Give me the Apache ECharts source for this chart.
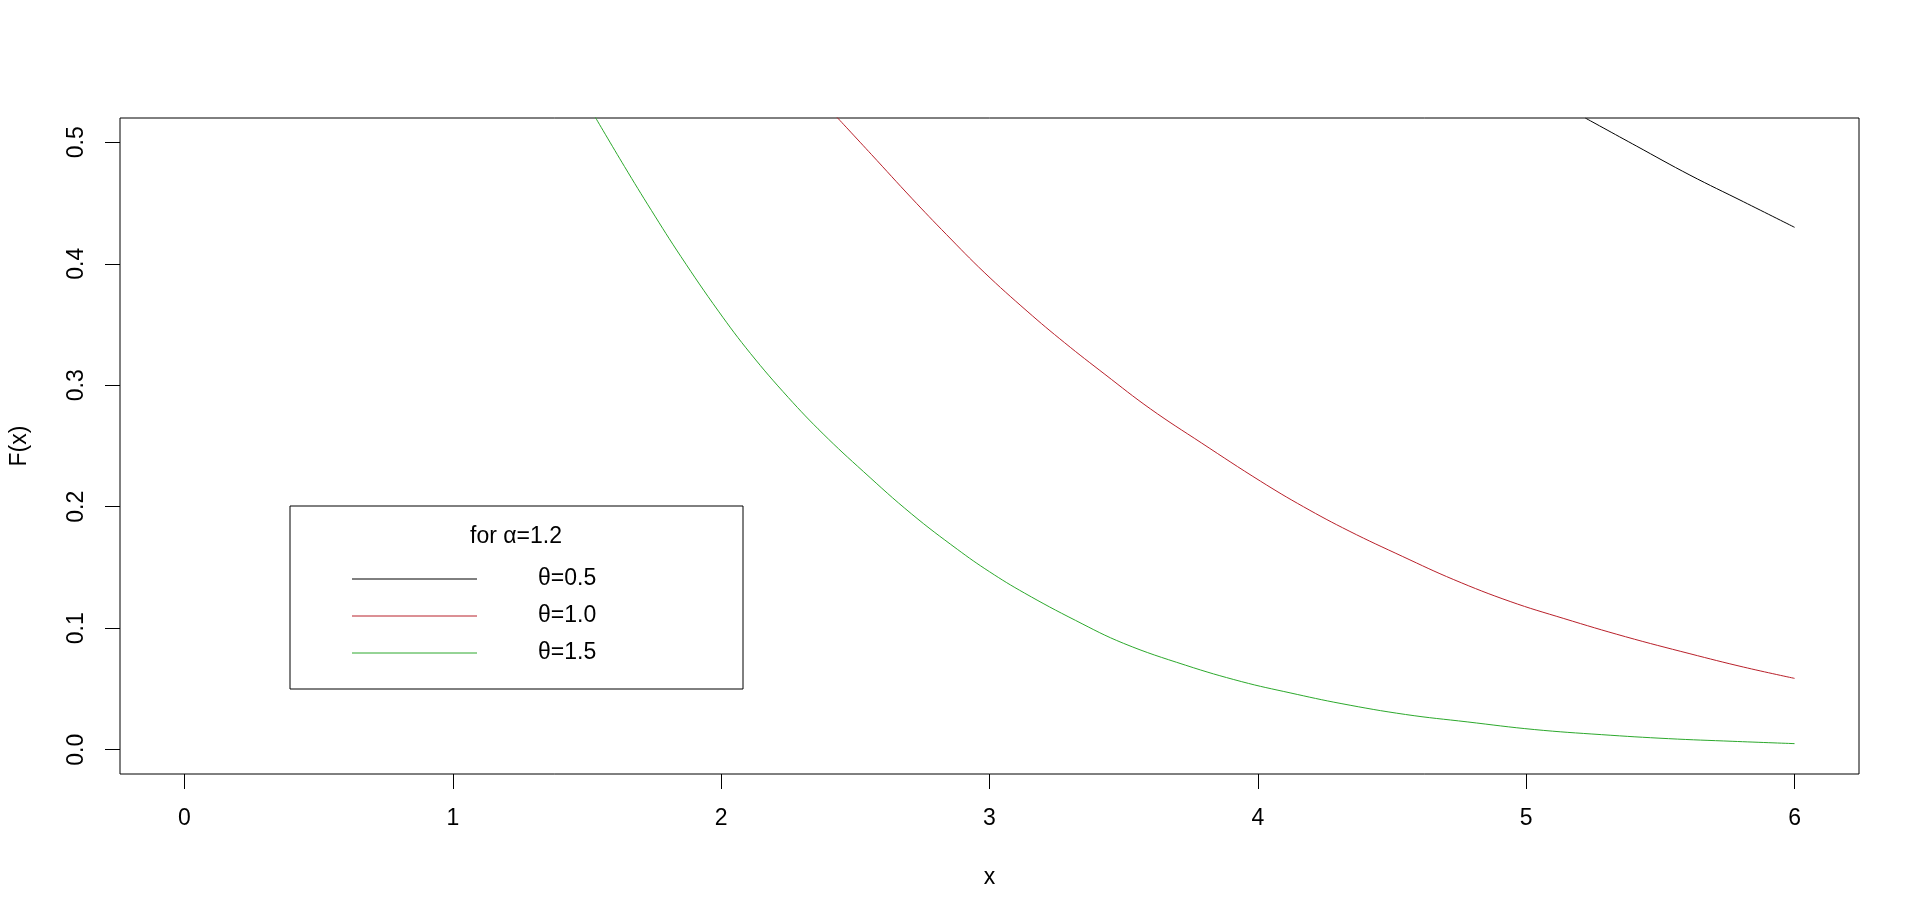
<!DOCTYPE html>
<html>
<head>
<meta charset="utf-8">
<title>F(x) for alpha=1.2</title>
<script src="https://cdn.jsdelivr.net/npm/echarts@6/dist/echarts.min.js"></script>
<style>
  html, body { margin: 0; padding: 0; background: #fff; }
  #main { width: 1920px; height: 921px; }
</style>
</head>
<body>
<div id="main"></div>
<script>
// values (curves are clipped at the top of the box)
var xTicks = [0, 1, 2, 3, 4, 5, 6]
var yTicks = [0, 0.1, 0.2, 0.3, 0.4, 0.5]

var x05 = [5.22, 5.41, 5.61, 5.81, 6.0]
var f05 = [0.520, 0.497, 0.473, 0.451, 0.430]

var x10 = [2.43, 2.56, 2.71, 2.84, 2.98, 3.14, 3.28, 3.43, 3.6, 3.79, 4.01, 4.17, 4.34, 4.54, 4.73, 4.94, 5.14, 5.37, 5.61, 5.81, 6.0]
var f10 = [0.521, 0.490, 0.454, 0.424, 0.393, 0.361, 0.335, 0.309, 0.2805, 0.2525, 0.221, 0.200, 0.180, 0.159, 0.140, 0.122, 0.108, 0.093, 0.079, 0.068, 0.0587]

var x15 = [1.53, 1.64, 1.74, 1.85, 1.99, 2.11, 2.25, 2.38, 2.53, 2.71, 2.88, 3.0, 3.13, 3.32, 3.5, 3.73, 3.94, 4.12, 4.31, 4.55, 4.78, 5.03, 5.28, 5.53, 5.77, 6.0]
var f15 = [0.521, 0.480, 0.444, 0.406, 0.361, 0.326, 0.290, 0.260, 0.229, 0.194, 0.165, 0.1465, 0.129, 0.1065, 0.0875, 0.0696, 0.056, 0.0468, 0.038, 0.029, 0.0229, 0.0166, 0.0124, 0.0091, 0.0069, 0.005]

var seriesNames = ['θ=0.5', 'θ=1.0', 'θ=1.5']
var seriesColors = ['#000000', '#B8202A', '#2CA82C']
var legendTitle = 'for α=1.2'

var FONT = 'Liberation Sans, Arial, sans-serif'
var FS = 23

function zip(xs, ys) {
  var out = []
  for (let i = 0; i < xs.length; i++) out.push([xs[i], ys[i]])
  return out
}

var allData = [zip(x05, f05), zip(x10, f10), zip(x15, f15)]

var chart = echarts.init(document.getElementById('main'), null, { renderer: 'canvas' })

// legend box drawn as graphic, R style
var legendGraphic = [{
  type: 'rect',
  shape: { x: 290, y: 506, width: 453, height: 183 },
  style: { fill: '#fff', stroke: '#000', lineWidth: 1 },
  z: 100
}, {
  type: 'text',
  x: 516, y: 537,
  style: { text: legendTitle, fill: '#000', font: FS + 'px ' + FONT, textAlign: 'center', textVerticalAlign: 'middle' },
  z: 101
}]
var rowY = [579, 616, 653]
for (let i = 0; i < seriesNames.length; i++) {
  legendGraphic.push({
    type: 'line',
    shape: { x1: 352, y1: rowY[i], x2: 477, y2: rowY[i] },
    style: { stroke: seriesColors[i], lineWidth: 1 },
    z: 101
  })
  legendGraphic.push({
    type: 'text',
    x: 538, y: rowY[i],
    style: { text: seriesNames[i], fill: '#000', font: FS + 'px ' + FONT, textAlign: 'left', textVerticalAlign: 'middle' },
    z: 101
  })
}

var series = []
for (let i = 0; i < seriesNames.length; i++) {
  series.push({
    name: seriesNames[i],
    type: 'line',
    data: allData[i],
    symbol: 'none',
    smooth: 0.4,
    clip: true,
    lineStyle: { color: seriesColors[i], width: 1 },
    itemStyle: { color: seriesColors[i] }
  })
}

var option = {
  animation: false,
  backgroundColor: '#fff',
  grid: {
    left: 119,
    top: 118,
    width: 1740,
    height: 656,
    show: true,
    borderColor: '#000',
    borderWidth: 1,
    backgroundColor: 'transparent'
  },
  xAxis: {
    type: 'value',
    min: -0.24,
    max: 6.24,
    name: 'x',
    nameLocation: 'middle',
    nameGap: 92,
    nameTextStyle: { color: '#000', fontSize: FS, fontFamily: FONT },
    axisLine: { show: false, onZero: false },
    splitLine: { show: false },
    axisTick: { show: true, inside: false, length: 15, customValues: xTicks, lineStyle: { color: '#000' } },
    axisLabel: {
      customValues: xTicks,
      margin: 33,
      color: '#000',
      fontSize: FS,
      fontFamily: FONT,
      formatter: function (v) { return String(v) }
    }
  },
  yAxis: {
    type: 'value',
    min: -0.02,
    max: 0.52,
    name: 'F(x)',
    nameLocation: 'middle',
    nameRotate: 90,
    nameGap: 89,
    nameTextStyle: { color: '#000', fontSize: FS, fontFamily: FONT },
    axisLine: { show: false, onZero: false },
    splitLine: { show: false },
    axisTick: { show: true, inside: false, length: 15, customValues: yTicks, lineStyle: { color: '#000' } },
    axisLabel: {
      customValues: yTicks,
      rotate: 90,
      margin: 32,
      color: '#000',
      fontSize: FS,
      fontFamily: FONT,
      formatter: function (v) { return Number(v).toFixed(1) }
    }
  },
  series: series,
  graphic: legendGraphic
}

chart.setOption(option)
</script>
</body>
</html>
